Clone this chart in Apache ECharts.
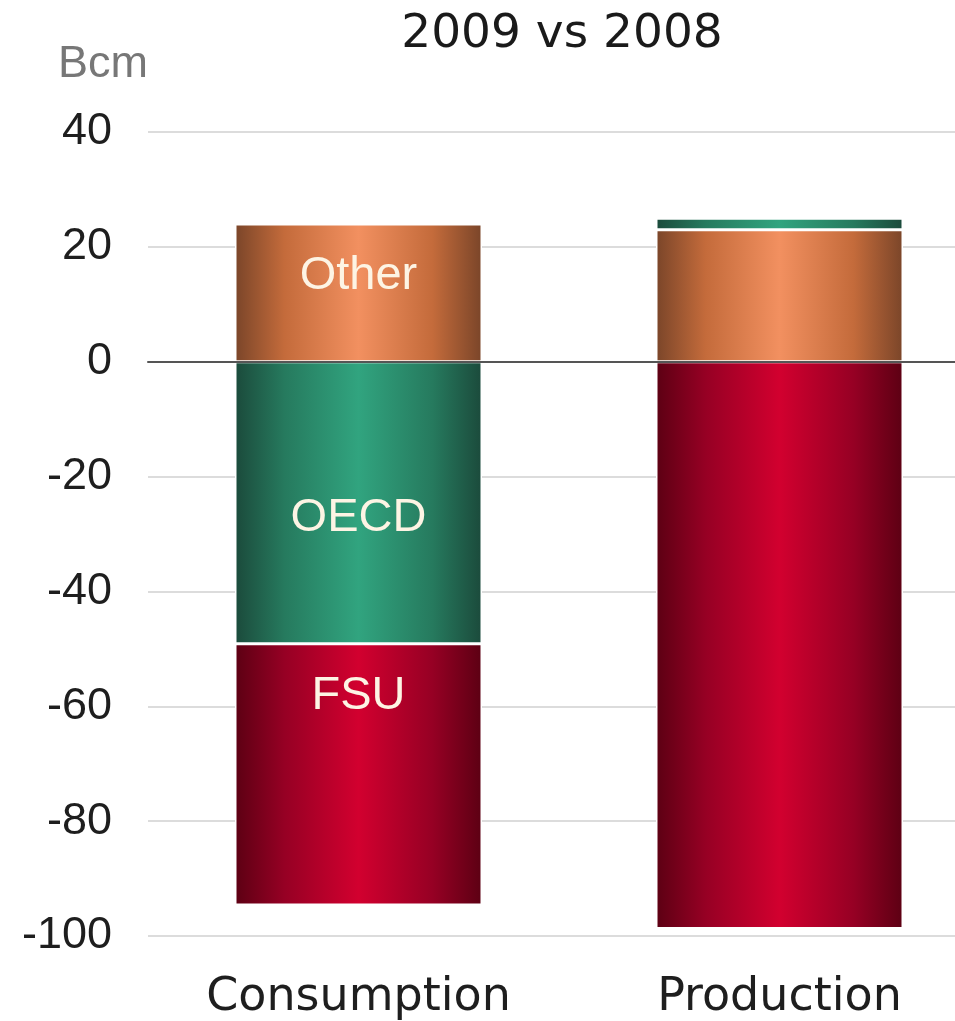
<!DOCTYPE html>
<html>
<head>
<meta charset="utf-8">
<script src="https://cdn.jsdelivr.net/npm/echarts@6/dist/echarts.min.js"></script>
<style>
  html, body { margin: 0; padding: 0; background: #ffffff; overflow: hidden; }
  /* plot area runs past the right edge of the page, so the drawing surface is wider */
  #chart { width: 990px; height: 1021px; }
</style>
</head>
<body>
<div id="chart"></div>
<script>
// Change in gas volumes, 2009 vs 2008 (Bcm)
const categories = ['Consumption', 'Production'];
const otherValues = [24.0, 23.0];
const oecdValues = [-49.1, 2.0];
const fsuValues = [-45.5, -98.7];
const yMin = -100, yMax = 40, yStep = 20;

const FONT = '"Liberation Sans", Arial, Helvetica, sans-serif';
const WIDE_FONT = '"DejaVu Sans", Verdana, sans-serif';

// cylinder-like horizontal shading for each segment colour
function shade(edge, mid, middle) {
  return new echarts.graphic.LinearGradient(0, 0, 1, 0, [
    { offset: 0, color: edge },
    { offset: 0.2, color: mid },
    { offset: 0.5, color: middle },
    { offset: 0.8, color: mid },
    { offset: 1, color: edge }
  ]);
}

const labelStyle = {
  show: true,
  position: 'inside',
  color: '#fdf4e4',
  fontFamily: FONT,
  fontSize: 47,
  formatter: p => (p.dataIndex === 0 ? p.seriesName : '')
};

function barSeries(name, values, fill, offsetY) {
  return {
    name: name,
    type: 'bar',
    stack: 'total',
    barWidth: 247,
    data: values,
    itemStyle: { color: fill, borderColor: '#ffffff', borderWidth: 1.5 },
    label: Object.assign({}, labelStyle, { offset: [0, offsetY] }),
    emphasis: { disabled: true }
  };
}

const chart = echarts.init(document.getElementById('chart'), null, { renderer: 'canvas' });

chart.setOption({
  animation: false,
  backgroundColor: '#ffffff',
  title: {
    text: '2009 vs 2008',
    left: 562,
    textAlign: 'center',
    top: 11,
    padding: 0,
    textStyle: { fontFamily: WIDE_FONT, fontSize: 47, fontWeight: 'normal', color: '#1a1a1a' }
  },
  grid: { left: 148, top: 132, right: 0, height: 809, containLabel: false },
  xAxis: [
    {
      // labelled category axis along the bottom
      type: 'category',
      data: categories,
      position: 'bottom',
      axisLine: { show: false, onZero: false },
      axisTick: { show: false },
      axisLabel: { color: '#1e1e1e', fontFamily: WIDE_FONT, fontSize: 46, margin: 39 }
    },
    {
      // zero baseline drawn over the bars
      type: 'category',
      data: categories,
      z: 10,
      axisLine: { show: true, onZero: true, lineStyle: { color: '#555555', width: 2 } },
      axisTick: { show: false },
      axisLabel: { show: false }
    }
  ],
  yAxis: {
    type: 'value',
    min: yMin,
    max: yMax,
    interval: yStep,
    name: 'Bcm',
    nameLocation: 'end',
    nameGap: 67,
    nameTextStyle: { color: '#777777', fontFamily: FONT, fontSize: 45, align: 'right', verticalAlign: 'middle' },
    axisLine: { show: false },
    axisTick: { show: false },
    axisLabel: { color: '#1e1e1e', fontFamily: FONT, fontSize: 45, margin: 36 },
    splitLine: { show: true, lineStyle: { color: '#dcdcdc', width: 2 } }
  },
  series: [
    barSeries('Other', otherValues, shade('#7a4529', '#c46b3b', '#f29060'), -17),
    barSeries('OECD', oecdValues, shade('#1b4a3b', '#267a5e', '#31a47f'), 15),
    barSeries('FSU', fsuValues, shade('#5c0013', '#960024', '#d2002f'), -78)
  ]
});
</script>
</body>
</html>
